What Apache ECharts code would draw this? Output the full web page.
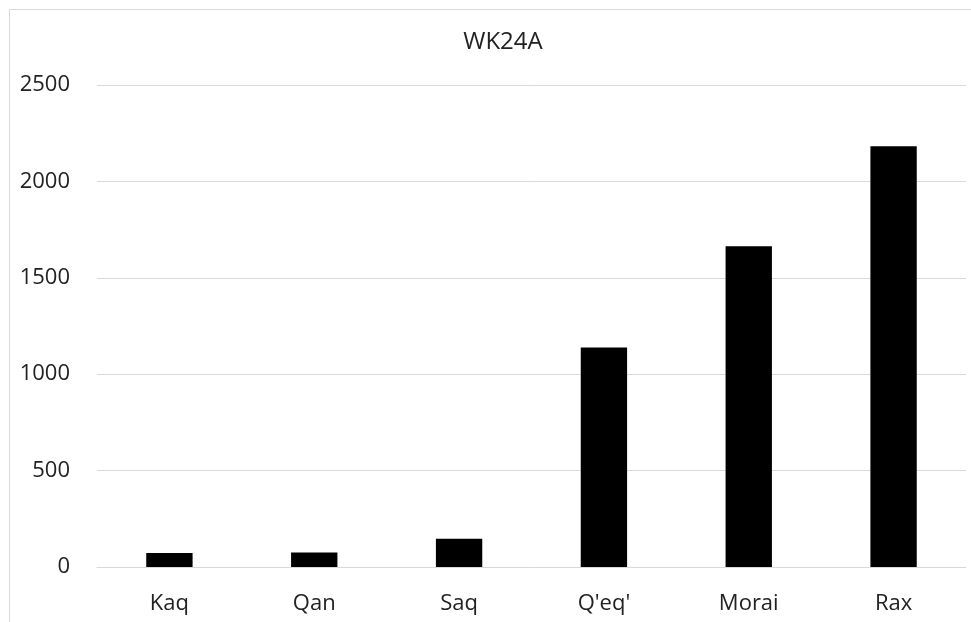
<!DOCTYPE html>
<html>
<head>
<meta charset="utf-8">
<script src="https://cdn.jsdelivr.net/npm/echarts@6/dist/echarts.min.js"></script>
<style>
html,body{margin:0;padding:0;background:#fff;}
#chart{width:971px;height:622px;}
</style>
</head>
<body>
<div id="chart"></div>
<script>
const categories = ["Kaq", "Qan", "Saq", "Q'eq'", "Morai", "Rax"];
const values = [73, 75, 147, 1138, 1663, 2182];
const yTicks = [0, 500, 1000, 1500, 2000, 2500];
const chartTitle = "WK24A";

const chart = echarts.init(document.getElementById('chart'));
const FONT = '"Open Sans", "Noto Sans", sans-serif';
chart.setOption({
  animation: false,
  backgroundColor: '#fff',
  graphic: [{
    type: 'rect',
    left: 7, top: 7,
    shape: { x: 0, y: 0, width: 1100, height: 800 },
    style: { fill: 'none', stroke: '#d9d9d9', lineWidth: 1 },
    silent: true
  }],
  title: {
    text: chartTitle,
    left: 498, top: 25,
    textAlign: 'center',
    textStyle: { fontFamily: FONT, fontSize: 24, fontWeight: 'normal', color: '#222' }
  },
  grid: { left: 97, right: 5, top: 85, bottom: 55 },
  xAxis: {
    type: 'category',
    data: categories,
    axisLine: { show: true, lineStyle: { color: '#d9d9d9', width: 1 } },
    axisTick: { show: false },
    axisLabel: { fontFamily: FONT, fontSize: 22, color: '#222', margin: 26 }
  },
  yAxis: {
    type: 'value',
    min: yTicks[0], max: yTicks[yTicks.length - 1], interval: yTicks[1] - yTicks[0],
    axisLine: { show: false },
    axisTick: { show: false },
    splitLine: { lineStyle: { color: '#d9d9d9', width: 1 } },
    axisLabel: { fontFamily: FONT, fontSize: 22, color: '#222', margin: 27,
      formatter: function (v) { return String(v); } }
  },
  series: [{
    type: 'bar',
    data: values,
    barWidth: '32%',
    itemStyle: { color: '#000' }
  }]
});
</script>
</body>
</html>
